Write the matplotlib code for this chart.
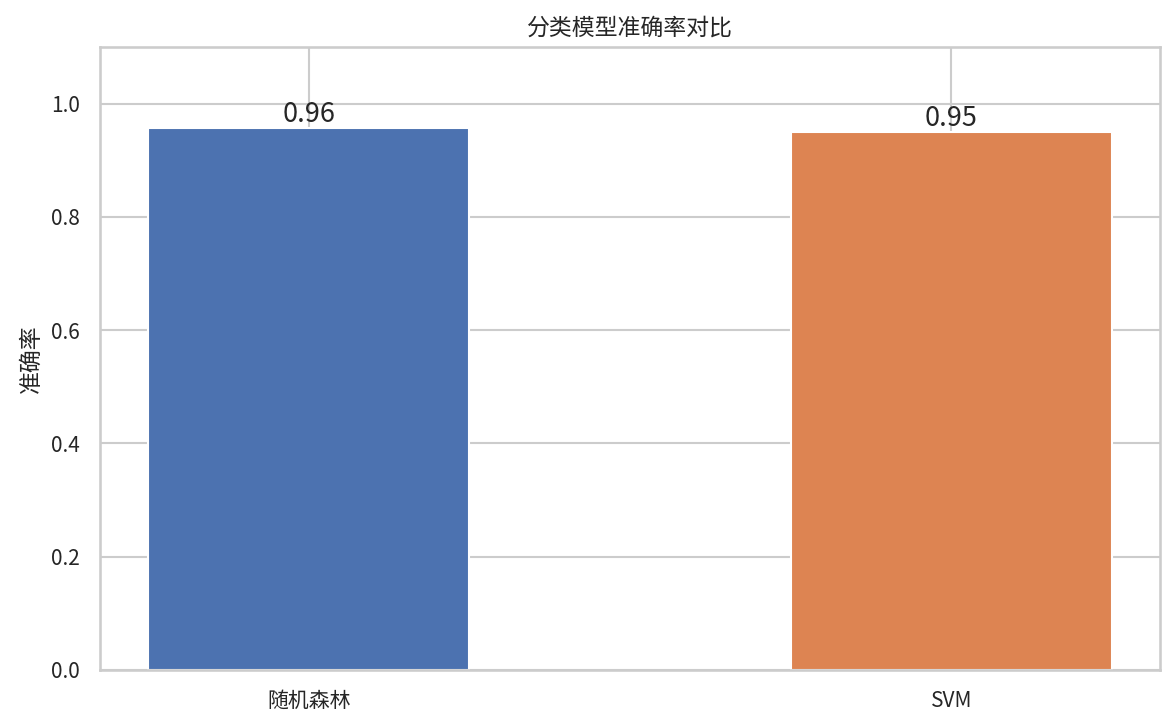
import matplotlib
matplotlib.use("Agg")
import matplotlib.pyplot as plt
import seaborn as sns

models = ["随机森林", "SVM"]
accuracy = [0.957, 0.950]
labels = ["0.96", "0.95"]

sns.set_theme(style="whitegrid")
plt.rcParams['font.family'] = ['Noto Sans CJK SC', 'DejaVu Sans']
plt.rcParams['axes.unicode_minus'] = False

fig = plt.figure(figsize=(1175/150, 726/150), dpi=150)
ax = fig.add_axes([100/1175, 1-670/726, 1060/1175, 623/726])
colors = sns.color_palette("deep")[:2]
bars = ax.bar(models, accuracy, width=0.5, color=colors)
for b, t in zip(bars, labels):
    ax.text(b.get_x()+b.get_width()/2, b.get_height(), t, ha="center", va="bottom", fontsize=13)
ax.set_ylim(0, 1.1)
ax.set_ylabel("准确率", fontsize=11)
ax.set_title("分类模型准确率对比", fontsize=11)
ax.tick_params(labelsize=10)
fig.savefig("out.png", dpi=150)
